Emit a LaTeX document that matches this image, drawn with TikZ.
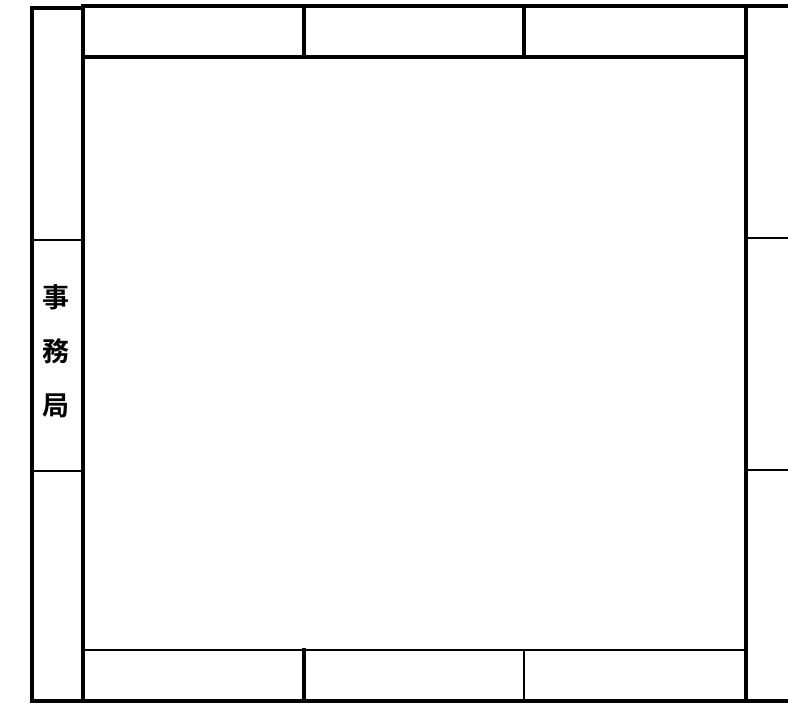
\documentclass[tikz,border=0pt]{standalone}
\usepackage{fontspec}
\newfontfamily\cjk{Noto Sans CJK JP}[BoldFont={Noto Sans CJK JP Bold}]
\begin{document}
\begin{tikzpicture}[x=1pt,y=-1pt,
  wall/.style={line width=3.4pt,line cap=rect},
  thinwall/.style={line width=2.6pt,line cap=rect},
  lbl/.style={font=\cjk\bfseries\fontsize{27}{30}\selectfont,align=center,inner sep=0pt}]
\useasboundingbox (0,0) rectangle (788,704);
% outer left column
\draw[wall] (32,8) -- (32,701) -- (746,701);
\draw[wall] (32,8) -- (83,8);
\draw[wall] (83,6) -- (83,701);
% top row
\draw[wall] (83,6) -- (788,6);
\draw[wall] (83,57) -- (746,57);
\draw[wall] (304,6) -- (304,57);
\draw[wall] (524,6) -- (524,57);
% right column
\draw[wall] (746,6) -- (746,701) -- (788,701);
\draw[thinwall] (746,238) -- (788,238);
\draw[thinwall] (746,470) -- (788,470);
% bottom row
\draw[thinwall] (83,650) -- (746,650);
\draw[wall] (304,650) -- (304,701);
\draw[thinwall] (524,650) -- (524,701);
% left column dividers
\draw[thinwall] (32,240) -- (83,240);
\draw[thinwall] (32,471) -- (83,471);
\node[lbl] (jimukyoku) at (56,351) {事\\[24pt]務\\[24pt]局};
\end{tikzpicture}
\end{document}
